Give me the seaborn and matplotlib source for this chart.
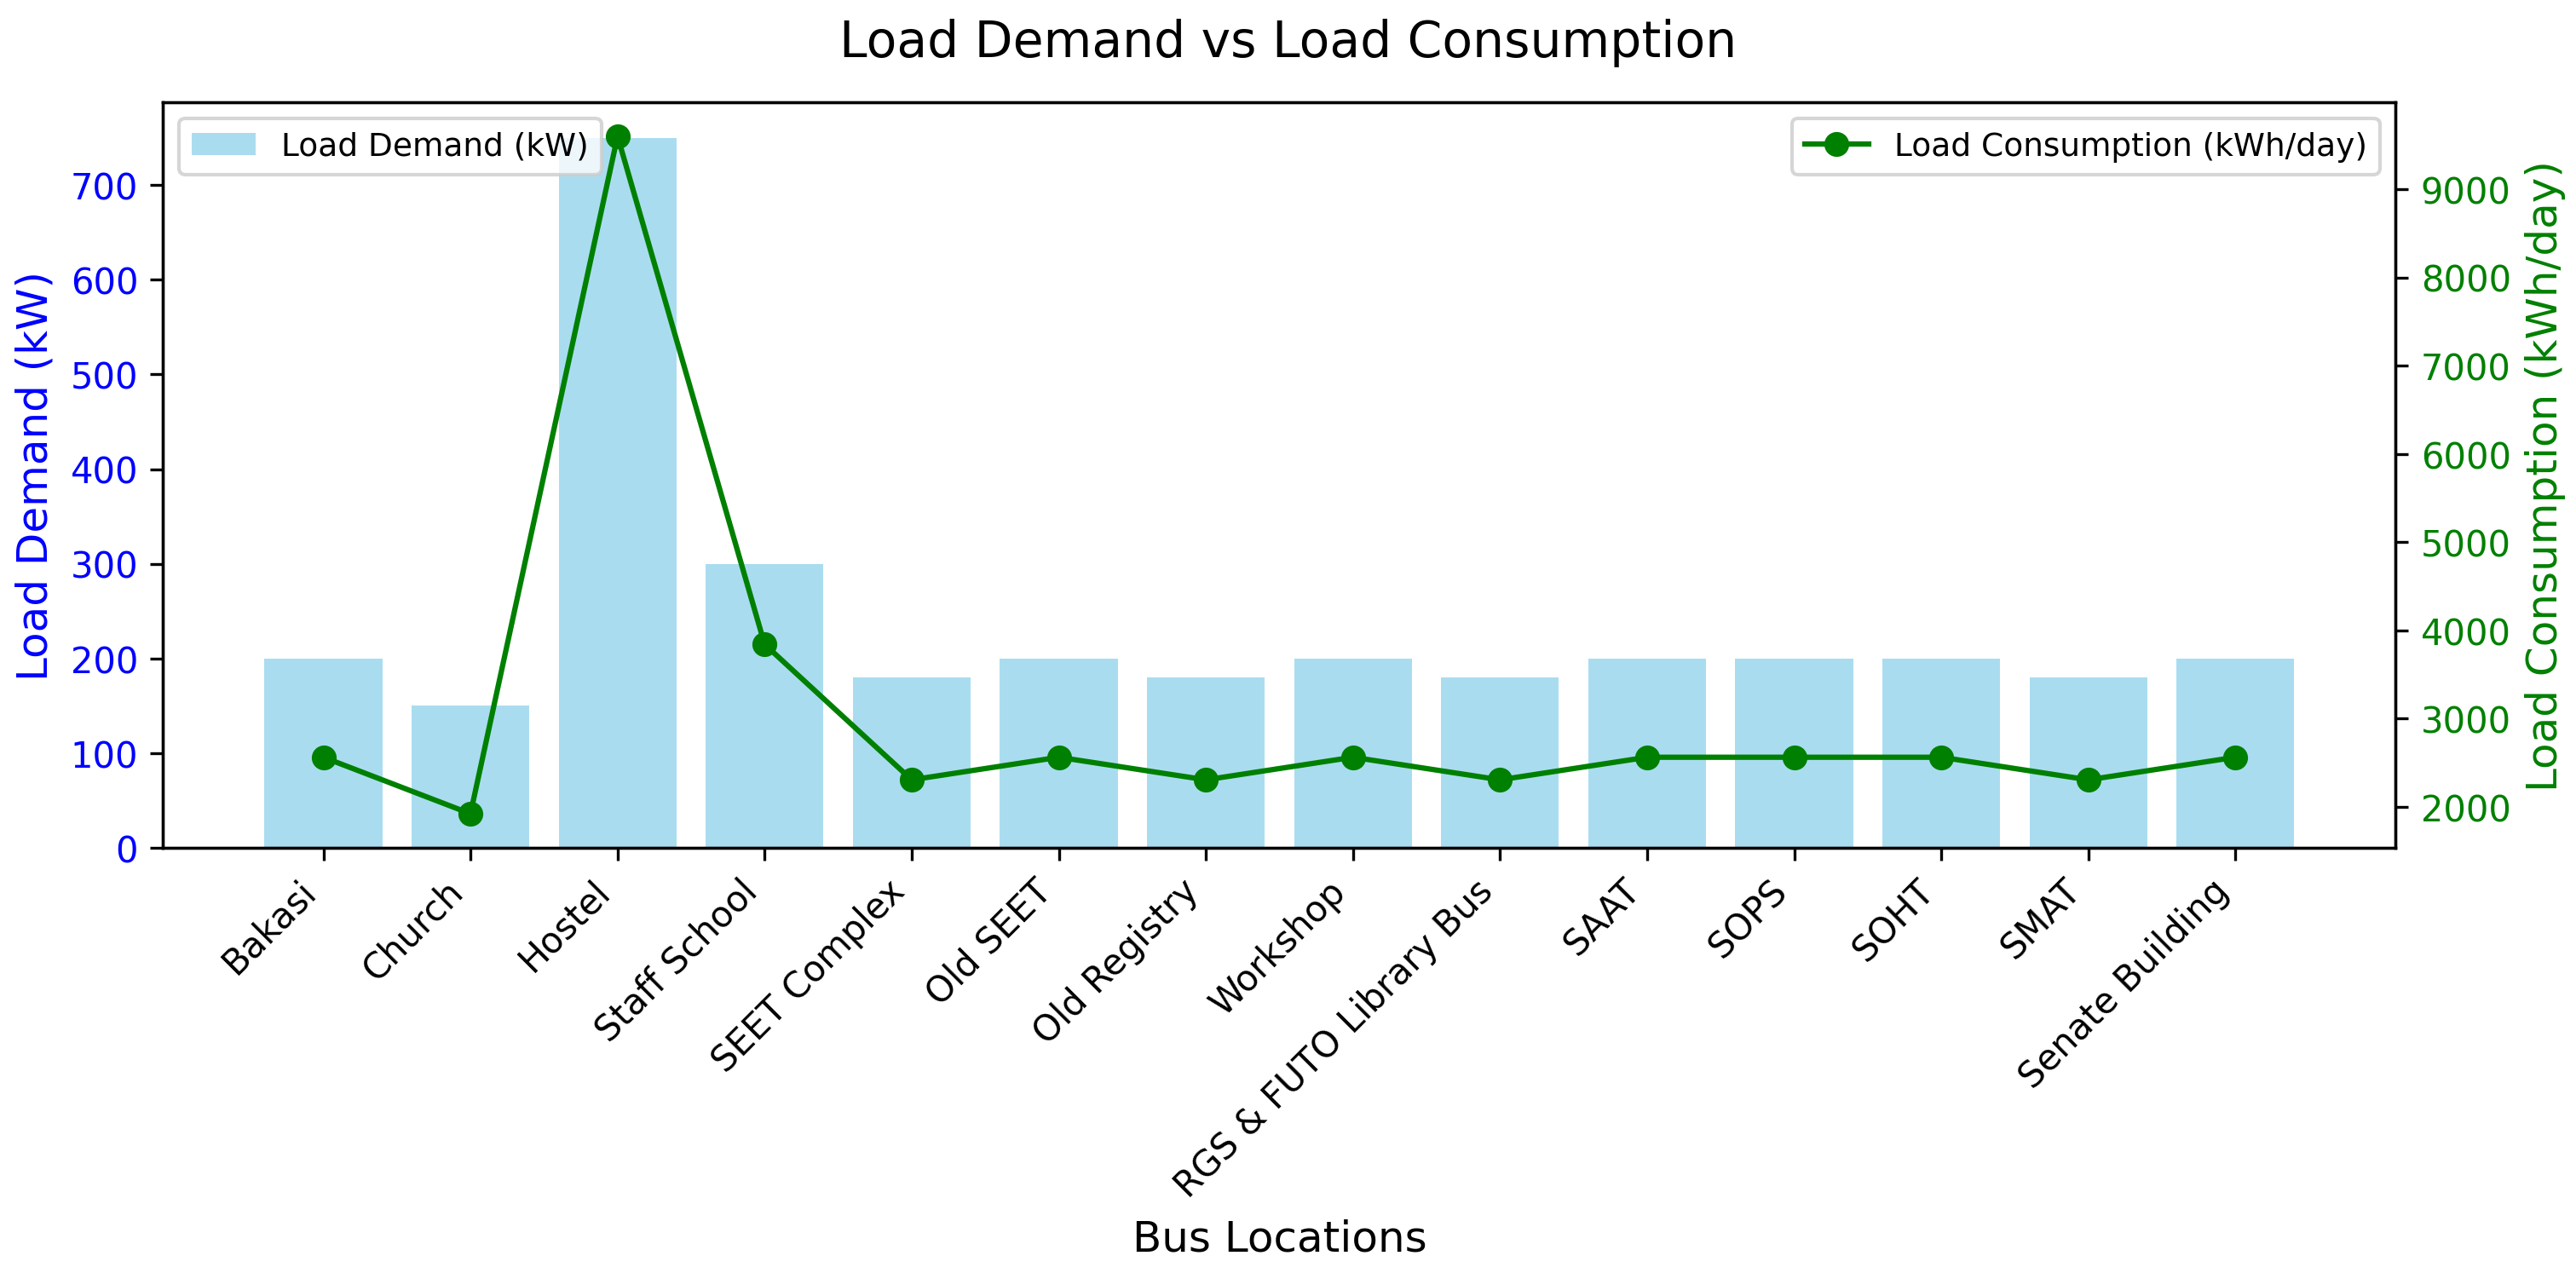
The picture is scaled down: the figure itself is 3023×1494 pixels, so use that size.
import matplotlib
matplotlib.use("Agg")
import matplotlib.pyplot as plt
import seaborn as sns
import pandas as pd

# Bus locations and their loads
locations = ['Bakasi', 'Church', 'Hostel', 'Staff School', 'SEET Complex', 'Old SEET',
             'Old Registry', 'Workshop', 'RGS & FUTO Library Bus', 'SAAT', 'SOPS',
             'SOHT', 'SMAT', 'Senate Building']
load_demand = [200, 150, 750, 300, 180, 200, 180, 200, 180, 200, 200, 200, 180, 200]
load_consumption = [2560, 1920, 9600, 3840, 2304, 2560, 2304, 2560, 2304, 2560, 2560, 2560, 2304, 2560]

df = pd.DataFrame({'Location': locations, 'Demand': load_demand, 'Consumption': load_consumption})

plt.rcParams['font.family'] = ['DejaVu Sans']

fig, ax1 = plt.subplots(figsize=(10.077, 4.983), dpi=300)
fig.subplots_adjust(left=0.0633, right=0.930, top=0.919, bottom=0.334)

sns.barplot(data=df, x='Location', y='Demand', color='skyblue', alpha=0.7,
            saturation=1, width=0.8, label='Load Demand (kW)', ax=ax1)
# go back to matplotlib's usual 5% margins on the x axis
ax1.set_autoscalex_on(True)
ax1.margins(x=0.05)
ax1.autoscale_view()

ax1.set_xlabel('Bus Locations', fontsize=12)
ax1.set_ylabel('Load Demand (kW)', color='blue', fontsize=12)
ax1.tick_params(axis='y', labelcolor='blue', labelsize=10)
ax1.tick_params(axis='x', labelsize=10)
plt.setp(ax1.get_xticklabels(), rotation=45, ha='right')
ax1.legend(loc='upper left', fontsize=9)

ax2 = ax1.twinx()
ax2.plot(range(len(locations)), df['Consumption'], color='green', marker='o',
         label='Load Consumption (kWh/day)')
ax2.set_ylabel('Load Consumption (kWh/day)', color='green', fontsize=12)
ax2.tick_params(axis='y', labelcolor='green', labelsize=10)
ax2.legend(loc='upper right', fontsize=9)

fig.suptitle('Load Demand vs Load Consumption', fontsize=14, y=0.985)

fig.savefig('out.png', dpi=300)
